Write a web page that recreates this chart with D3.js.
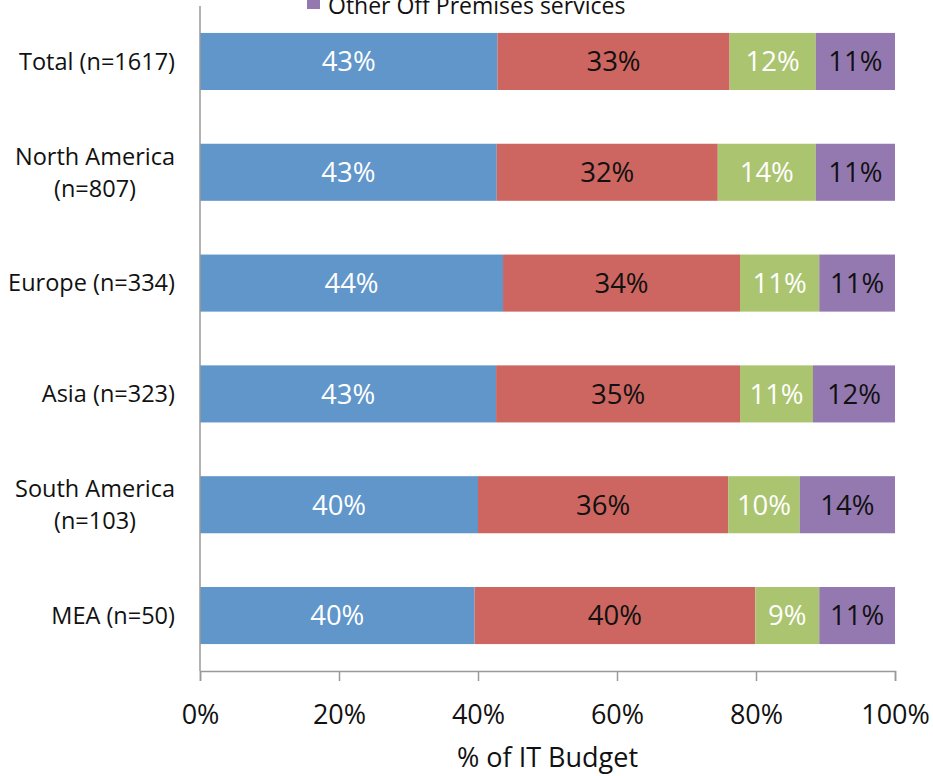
<!DOCTYPE html>
<html>
<head>
<meta charset="utf-8">
<script src="https://cdn.jsdelivr.net/npm/d3@7"></script>
<style>
  body { margin: 0; background: #fff; }
  svg { font-family: "Open Sans", Lato, sans-serif; }
</style>
</head>
<body>
<svg class="svg-chart" width="933" height="776"></svg>
<script>
const categories = ['Total (n=1617)', 'North America\n(n=807)', 'Europe (n=334)', 'Asia (n=323)', 'South America\n(n=103)', 'MEA (n=50)'];
const seriesNames = ['On Premises', 'Cloud services', 'Hosted services', 'Other Off Premises services'];
const seriesColors = ['#6096c9', '#cd6660', '#abc46f', '#9479b1'];
const labelColors = ['#fff', '#111', '#fff', '#111'];
const onPremises = [42.8, 42.7, 43.6, 42.6, 40.0, 39.5];
const cloud = [33.4, 31.8, 34.1, 35.1, 36.0, 40.4];
const hosted = [12.4, 14.1, 11.4, 10.5, 10.3, 9.2];
const otherOff = [11.4, 11.4, 10.9, 11.8, 13.7, 10.9];
const xTicks = [0, 20, 40, 60, 80, 100];

const svg = d3.select('.svg-chart');
const margin = { top: 6, right: 38, bottom: 105, left: 200 };
const width = +svg.attr('width') - margin.left - margin.right;
const height = +svg.attr('height') - margin.top - margin.bottom;

const rows = categories.map((c, i) => ({
  cat: c,
  vals: [onPremises[i], cloud[i], hosted[i], otherOff[i]]
}));

const x = d3.scaleLinear().domain([0, 100]).range([0, width]);
const y = d3.scaleBand().domain(categories).range([0, height]).paddingInner(0.485).paddingOuter(0.243);

const g = svg.append('g')
  .attr('transform', 'translate(' + margin.left + ',' + margin.top + ')');

// bars
rows.forEach(r => {
  let acc = 0;
  r.vals.forEach((v, k) => {
    const x0 = acc;
    acc += v;
    g.append('rect')
      .attr('x', x(x0))
      .attr('y', y(r.cat))
      .attr('width', x(acc) - x(x0))
      .attr('height', y.bandwidth())
      .attr('fill', seriesColors[k]);
    g.append('text')
      .attr('x', x(x0 + v / 2))
      .attr('y', y(r.cat) + y.bandwidth() / 2)
      .attr('dy', '0.36em')
      .attr('text-anchor', 'middle')
      .attr('fill', labelColors[k])
      .style('font-size', '27.5px')
      .text(Math.round(v) + '%');
  });
});

// y axis line + category labels
g.append('line')
  .attr('x1', 0).attr('x2', 0)
  .attr('y1', 0).attr('y2', height)
  .attr('stroke', '#999').attr('stroke-width', 1.5);

categories.forEach(c => {
  const lines = c.split('\n');
  const cy = y(c) + y.bandwidth() / 2;
  const lh = 32;
  const t = g.append('text')
    .attr('text-anchor', lines.length > 1 ? 'middle' : 'end')
    .attr('fill', '#111')
    .style('font-size', '23.5px');
  lines.forEach((ln, j) => {
    t.append('tspan')
      .attr('x', lines.length > 1 ? -105 : -25)
      .attr('y', cy + (j - (lines.length - 1) / 2) * lh)
      .attr('dy', '0.35em')
      .text(ln);
  });
});

// x axis
const xAxis = d3.axisBottom(x)
  .tickValues(xTicks)
  .tickFormat(d => d + '%')
  .tickSize(10)
  .tickPadding(24);

const ax = g.append('g')
  .attr('class', 'axis axis--x')
  .attr('transform', 'translate(0,' + height + ')')
  .call(xAxis);
ax.select('.domain').attr('stroke', '#999').attr('stroke-width', 1.5);
ax.selectAll('.tick line').attr('stroke', '#999').attr('stroke-width', 1.5);
ax.selectAll('.tick text')
  .attr('fill', '#111')
  .style('font-size', '27px')
  .style('font-family', '"Open Sans", Lato, sans-serif');

g.append('text')
  .attr('x', width / 2)
  .attr('y', height + 96)
  .attr('text-anchor', 'middle')
  .attr('fill', '#111')
  .style('font-size', '27px')
  .text('% of IT Budget');

// legend (only last entry is inside the view)
const lg = svg.append('g').attr('transform', 'translate(307,0)');
lg.append('rect')
  .attr('x', 0).attr('y', -5)
  .attr('width', 13).attr('height', 14)
  .attr('fill', seriesColors[3]);
lg.append('text')
  .attr('x', 21).attr('y', 14)
  .attr('fill', '#111')
  .style('font-size', '23px')
  .text(seriesNames[3]);
</script>
</body>
</html>
